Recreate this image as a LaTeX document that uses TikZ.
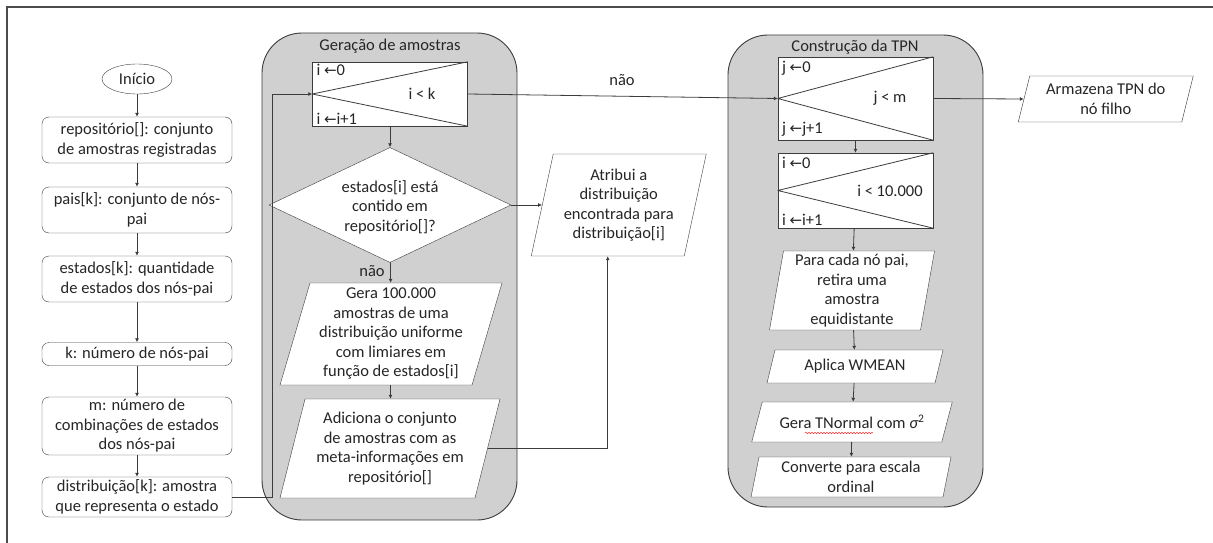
\documentclass[tikz,border=0pt]{standalone}
\usepackage{fontspec}
\setmainfont{Carlito}
\newfontfamily\symfont{DejaVu Sans}
\usetikzlibrary{shapes.geometric,arrows.meta,calc,decorations.pathmorphing}
\definecolor{contfill}{HTML}{D0D0D0}
\definecolor{lin}{HTML}{3C3C3C}
\definecolor{txt}{HTML}{262626}
\newcommand\la{{\symfont\fontsize{15}{15}\selectfont ←}}
\tikzset{
  every node/.style={font=\fontsize{16.5}{19.5}\selectfont, text=txt},
  rbox/.style={draw=lin, fill=white, rounded corners=7, minimum width=190, align=center, inner sep=0pt},
  loopbox/.style={draw=lin, fill=white, minimum width=155, inner sep=0pt},
  ptext/.style={align=center, inner sep=0pt},
  pline/.style={draw=lin, fill=white},
  lt/.style={inner sep=1pt},
  arr/.style={draw=lin, line width=0.8pt, -{Latex[length=4,width=4]}},
  conn/.style={draw=lin, line width=0.8pt},
  container/.style={draw=lin, fill=contfill, rounded corners=40, line width=0.9pt},
  frameline/.style={draw=black!70, line width=1.6pt},
}
% name, cx, cy, mid width, height, slant, text
\newcommand\pgram[7]{%
  \draw[pline] ({#2-#4/2+#6/2},{#3-#5/2}) -- ({#2+#4/2+#6/2},{#3-#5/2}) --
    ({#2+#4/2-#6/2},{#3+#5/2}) -- ({#2-#4/2-#6/2},{#3+#5/2}) -- cycle;
  \node[ptext, minimum width=#4, minimum height=#5] (#1) at (#2,#3) {#7};}
\begin{document}
\begin{tikzpicture}[x=1pt,y=-1pt]
\useasboundingbox (0,0) rectangle (1213,543);
\draw[frameline] (7,543) -- (7,7) -- (1213,7);

% containers
\draw[container] (262,33) rectangle (517,520);
\node (t1) at (390,46) {Geração de amostras};
\draw[container] (728,35) rectangle (983,507);
\node (t2) at (855,47) {Construção da TPN};

% left column
\node[ellipse, draw=lin, fill=white, minimum width=70, minimum height=30, inner sep=0pt] (ini) at (137,79) {Início};
\node[rbox, minimum height=46] (repo) at (137,140) {repositório[]: conjunto\\de amostras registradas};
\node[rbox, minimum height=46] (pais) at (137,210) {pais[k]: conjunto de nós-\\pai};
\node[rbox, minimum height=46] (est) at (137,279) {estados[k]: quantidade\\de estados dos nós-pai};
\node[rbox, minimum height=23] (kn) at (137,354) {k: número de nós-pai};
\node[rbox, minimum height=58] (mn) at (137,426) {m: número de\\combinações de estados\\dos nós-pai};
\node[rbox, minimum height=40] (dist) at (137,497) {distribuição[k]: amostra\\que representa o estado};
\draw[arr] (ini) -- (repo);
\draw[arr] (repo) -- (pais);
\draw[arr] (pais) -- (est);
\draw[arr] (est) -- (kn);
\draw[arr] (kn) -- (mn);
\draw[arr] (mn) -- (dist);

% loop 1
\node[loopbox, minimum height=64] (l1) at (390,94) {};
\draw[conn] (l1.west) -- (l1.north east) (l1.west) -- (l1.south east);
\node[lt, anchor=north west] (l1a) at ([xshift=3,yshift=-1]l1.north west) {i \la0};
\node[lt] (l1c) at (422,94) {i < k};
\node[lt, anchor=south west] (l1b) at ([xshift=3,yshift=1]l1.south west) {i \la i+1};

% decision
\node[diamond, draw=lin, fill=white, minimum width=242, minimum height=115, inner sep=0pt] (dia) at (390,205) {};
\node[ptext] (diat) at (390,207) {estados[i] está\\contido em\\repositório[]?};
\node (nao1) at (372,271) {não};

\pgram{gera}{391}{334}{192}{102}{30}{Gera 100.000\\amostras de uma\\distribuição uniforme\\com limiares em\\função de estados[i]}
\pgram{adic}{390}{448.5}{195}{99}{25}{Adiciona o conjunto\\de amostras com as\\meta-informações em\\repositório[]}
\pgram{atr}{618.75}{205}{153}{102}{22}{Atribui a\\distribuição\\encontrada para\\distribuição[i]}

\draw[arr] (l1) -- (dia);
\draw[arr] (dia) -- (gera);
\draw[arr] (gera) -- (adic);
\draw[arr] (dia.east) -- (atr.west);
\draw[arr] (adic.east) -| ([xshift=-11]atr.south);
\draw[arr] (dist.east) -- ++(40,0) |- (l1.west);

% loop 2 and 3
\node[loopbox, minimum height=83] (l2) at (855.5,98.5) {};
\draw[conn] (l2.west) -- (l2.north east) (l2.west) -- (l2.south east);
\node[lt, anchor=north west] (l2a) at ([xshift=3,yshift=-3]l2.north west) {j \la0};
\node[lt] (l2c) at (890,98) {j < m};
\node[lt, anchor=south west] (l2b) at ([xshift=3,yshift=3]l2.south west) {j \la j+1};

\node[loopbox, minimum height=75] (l3) at (855.5,190.5) {};
\draw[conn] (l3.west) -- (l3.north east) (l3.west) -- (l3.south east);
\node[lt, anchor=north west] (l3a) at ([xshift=3,yshift=-3]l3.north west) {i \la0};
\node[lt] (l3c) at (890,191) {i < 10.000};
\node[lt, anchor=south west] (l3b) at ([xshift=3,yshift=2]l3.south west) {i \la i+1};

\pgram{para}{852}{290.5}{151}{79}{14}{Para cada nó pai,\\retira uma\\amostra\\equidistante}
\pgram{apl}{855}{366.5}{168}{33}{8}{Aplica WMEAN}
\pgram{tn}{852}{422}{190}{40}{10.5}{Gera TNormal com {\itshape σ}\textsuperscript{2}}
\pgram{conv}{851}{477}{192}{40}{8}{Converte para escala\\ordinal}
\pgram{arm}{1105.75}{99}{163.5}{46}{11.5}{Armazena TPN do\\nó filho}

\draw[arr] (l2) -- (l3);
\draw[arr] (l3) -- (para);
\draw[arr] (para) -- (apl);
\draw[arr] (apl) -- (tn);
\draw[arr] (tn) -- (conv);
\draw[arr] (l2.east) -- (arm.west);
\draw[arr] (l1.east) -- (l2.west);
\node (nao2) at (622,80) {não};

% spell-check underline
\draw[red!80, line width=0.5pt, decorate, decoration={snake, amplitude=0.7, segment length=3}] (805,433) -- (873,433);
\end{tikzpicture}
\end{document}
